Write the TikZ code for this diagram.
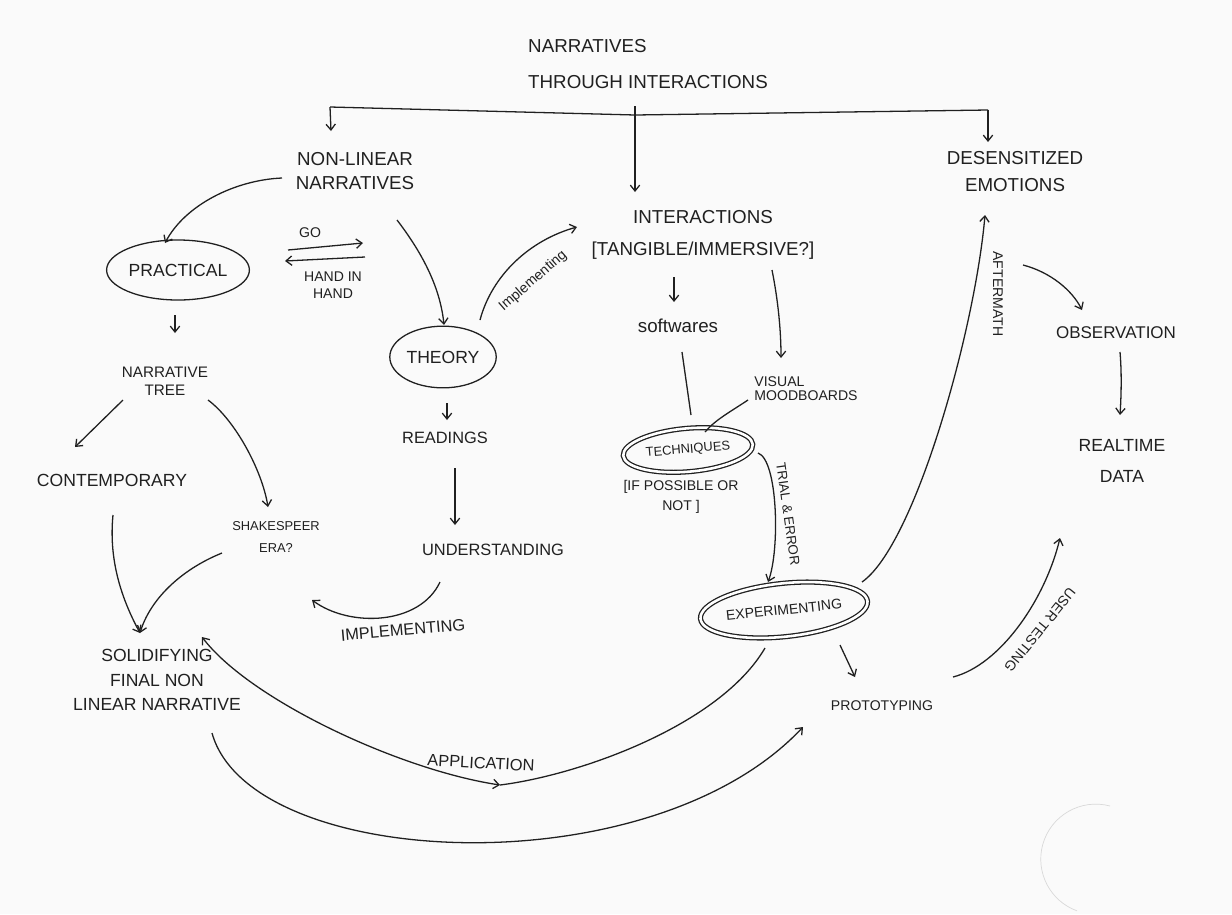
\documentclass[tikz,border=0pt]{standalone}
\usepackage{fontspec}
\setmainfont{Liberation Sans}
\usetikzlibrary{shapes.geometric,calc,arrows.meta}

\definecolor{paper}{RGB}{250,250,250}
\definecolor{ink}{RGB}{32,32,32}

\tikzset{
  txt/.style={font=\fontsize{15}{18}\selectfont, align=center, inner sep=1pt},
  blob/.style={draw, ellipse, inner sep=0pt},
  dblob/.style={draw, ellipse, double, double distance=2.2pt, inner sep=0pt},
  faint/.style={gray!30, line width=0.6pt}
}

\begin{document}
\begin{tikzpicture}[x=0.03cm, y=-0.03cm, line width=1.1pt, color=ink,
    >={Straight Barb[length=5pt,width=8pt]}]
    \useasboundingbox (0,0) rectangle (1232,914);
    \fill[paper] (0,0) rectangle (1232,914);

    % Title
    \node[txt, font=\fontsize{16}{31}\selectfont, align=left] (title) at (648,64) {NARRATIVES\\THROUGH INTERACTIONS};

    % Three branches
    \node[txt, font=\fontsize{16}{21}\selectfont] (nonlin) at (355,171) {NON-LINEAR\\NARRATIVES};
    \node[txt, font=\fontsize{16}{27}\selectfont] (inter) at (703,235) {INTERACTIONS\\{[}TANGIBLE/IMMERSIVE?]};
    \node[txt, font=\fontsize{16}{23}\selectfont] (desens) at (1015,172) {DESENSITIZED\\EMOTIONS};

    % Left side
    \node[blob, txt, minimum width=4.2cm, minimum height=1.8cm] (practical) at (178,270) {PRACTICAL};
    \node[txt, font=\fontsize{12}{14}\selectfont] (go) at (310,233) {GO};
    \node[txt, font=\fontsize{12}{14}\selectfont] (handin) at (333,285) {HAND IN\\HAND};
    \node[txt, font=\fontsize{13}{15}\selectfont] (tree) at (165,381) {NARRATIVE\\TREE};
    \node[txt] (contemp) at (112,480) {CONTEMPORARY};
    \node[txt, font=\fontsize{11}{18}\selectfont] (shakes) at (276,537) {SHAKESPEER\\ERA?};
    \node[txt, font=\fontsize{15}{21}\selectfont] (solid) at (157,680) {SOLIDIFYING\\FINAL NON\\LINEAR NARRATIVE};

    % Middle
    \node[blob, txt, minimum width=2.95cm, minimum height=1.85cm] (theory) at (443,357) {THEORY};
    \node[txt, font=\fontsize{14}{17}\selectfont] (readings) at (445,438) {READINGS};
    \node[txt, font=\fontsize{14}{17}\selectfont] (underst) at (493,550) {UNDERSTANDING};
    \node[txt, font=\fontsize{16}{19}\selectfont] (soft) at (678,326) {softwares};
    \node[txt, font=\fontsize{12}{12}\selectfont, align=left] (visual) at (806,389) {VISUAL\\MOODBOARDS};
    \node[dblob, txt, font=\fontsize{11}{13}\selectfont, minimum width=3.9cm, minimum height=1.3cm, rotate=5] (tech) at (688,450) {TECHNIQUES};
    \node[txt, font=\fontsize{12}{17}\selectfont] (ifposs) at (681,497) {[IF POSSIBLE OR\\NOT ]};
    \node[dblob, txt, font=\fontsize{12}{14}\selectfont, minimum width=4.9cm, minimum height=1.6cm, rotate=6] (exper) at (784,610) {EXPERIMENTING};
    \node[txt, font=\fontsize{12}{14}\selectfont] (proto) at (882,706) {PROTOTYPING};

    % Right side
    \node[txt, font=\fontsize{14.5}{17}\selectfont] (observ) at (1116,333) {OBSERVATION};
    \node[txt, font=\fontsize{15}{26}\selectfont] (realtime) at (1122,461) {REALTIME\\DATA};

    % Connector labels
    \node[txt, font=\fontsize{12}{14}\selectfont, rotate=41] (implem) at (533,281) {Implementing};
    \node[txt, font=\fontsize{14}{16}\selectfont, rotate=5] (implem2) at (403,630) {IMPLEMENTING};
    \node[txt, font=\fontsize{11.5}{14}\selectfont, rotate=-82] (trial) at (788,514) {TRIAL \& ERROR};
    \node[txt, font=\fontsize{12}{14}\selectfont, rotate=-90] (after) at (998,294) {AFTERMATH};
    \node[txt, font=\fontsize{12}{14}\selectfont, rotate=-129] (usertest) at (1040,630) {USER TESTING};
    \node[txt, font=\fontsize{14}{16}\selectfont, rotate=-3] (applic) at (481,763) {APPLICATION};

    % Bar under the title
    \coordinate (barL) at (330,107);
    \coordinate (barJ) at (635,115);
    \coordinate (barT) at (635,106);
    \coordinate (barR) at (988,110);
    \draw (barL) -- (barJ) -- (barR);
    \draw[->] (barL) -- ($(nonlin)+(-24,-40)$);
    \draw[->] (barT) -- ($(inter)+(-68,-43)$);
    \draw[->] (barR) -- ($(desens)+(-27,-30)$);

    % Go hand in hand
    \coordinate (goA) at (288,250);
    \coordinate (goB) at (363,243);
    \coordinate (handA) at (365,257);
    \coordinate (handB) at (285,261);
    \draw[->] (goA) -- (goB);
    \draw[->] (handA) -- (handB);

    % Non-linear narratives
    \draw[->] ($(nonlin)+(-73,7)$) .. controls (235,180) and (185,205) .. ($(practical)+(-13,-27)$);
    \draw[->] ($(nonlin)+(42,49)$) .. controls (420,250) and (440,285) .. ($(theory)+(1,-32)$);
    \draw[->] ($(theory)+(37,-37)$) .. controls (492,275) and (530,240) .. ($(inter)+(-126,-8)$);
    \draw[->] ($(practical)+(-3,45)$) -- ($(tree)+(10,-48)$);
    \draw[->] ($(tree)+(-42,19)$) -- ($(contemp)+(-37,-33)$);
    \draw[->] ($(tree)+(43,19)$) .. controls (235,420) and (262,470) .. ($(shakes)+(-8,-30)$);
    \draw[->] ($(contemp)+(1,35)$) .. controls (108,565) and (125,605) .. ($(solid)+(-17,-47)$);
    \draw[->] ($(shakes)+(-54,16)$) .. controls (180,570) and (150,600) .. ($(solid)+(-17,-47)$);

    % Theory
    \draw[->] ($(theory)+(4,46)$) -- ($(readings)+(2,-18)$);
    \draw[->] ($(readings)+(10,30)$) -- ($(underst)+(-38,-25)$);
    \coordinate (loopEnd) at (312,600);
    \draw[->] ($(underst)+(-53,32)$) .. controls (420,625) and (350,628) .. (loopEnd);

    % Interactions
    \draw[->] ($(inter)+(-29,42)$) -- ($(soft)+(-4,-24)$);
    \draw[->] ($(inter)+(69,35)$) .. controls (778,300) and (781,330) .. ($(visual)+(-25,-31)$);
    \draw ($(soft)+(4,26)$) -- ($(tech)+(3,-35)$);
    \draw ($(visual)+(-58,11)$) .. controls (730,412) and (715,420) .. ($(tech)+(17,-18)$);
    \draw[->] ($(tech)+(70,3)$) .. controls (778,460) and (780,550) .. ($(exper)+(-16,-28)$);
    \draw[->] ($(exper)+(56,35)$) -- ($(proto)+(-27,-29)$);
    \draw[->] ($(exper)+(78,-28)$) .. controls (915,545) and (975,330) .. ($(desens)+(-30,43)$);

    % Emotions
    \draw[->] ($(desens)+(8,93)$) .. controls (1050,272) and (1072,290) .. ($(observ)+(-34,-23)$);
    \draw[->] ($(observ)+(4,19)$) .. controls (1122,375) and (1121,400) .. ($(realtime)+(-2,-46)$);
    \draw[->] ($(proto)+(71,-29)$) .. controls (1000,665) and (1045,600) .. ($(realtime)+(-62,77)$);

    % Application and the way back
    \coordinate (appMid) at (500,785);
    \draw[<->] ($(solid)+(45,-43)$) .. controls (250,700) and (400,770) .. (appMid);
    \draw (appMid) .. controls (580,775) and (720,725) .. ($(exper)+(-19,38)$);
    \draw[->] ($(solid)+(55,53)$) .. controls (250,870) and (650,890) .. ($(proto)+(-79,21)$);

    % Mark on the paper
    \draw[faint] (1110,806) arc[start angle=75, end angle=250, radius=1.65cm];
\end{tikzpicture}
\end{document}
